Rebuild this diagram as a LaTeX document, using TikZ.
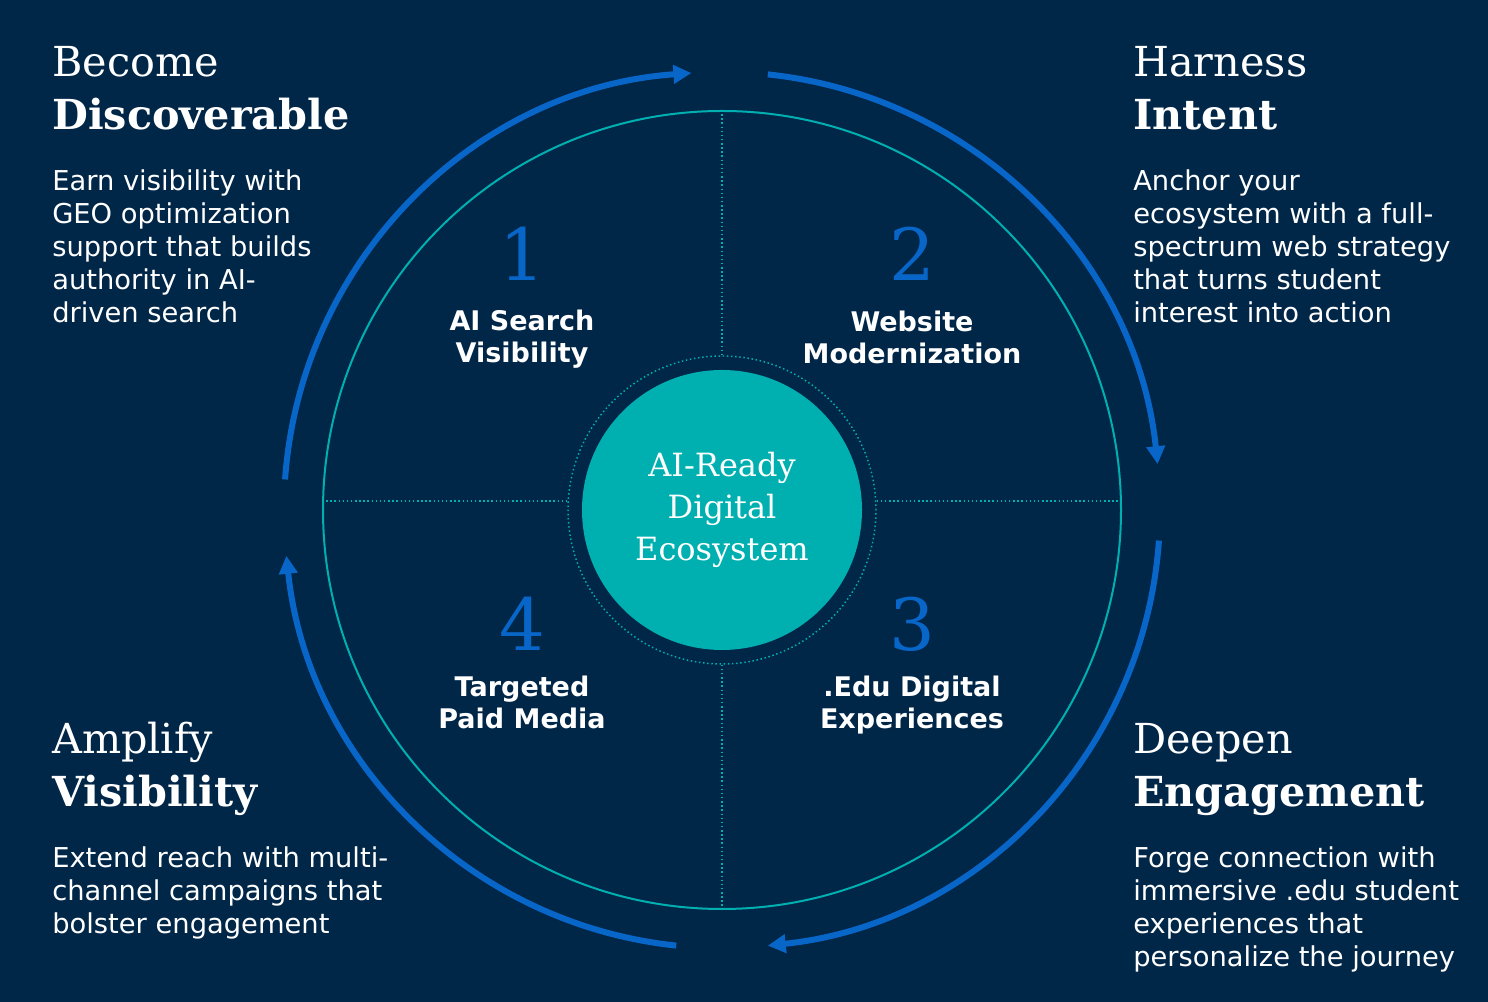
\documentclass[tikz,border=0pt]{standalone}
\usepackage{fontspec}
\setmainfont{DejaVu Sans}
\newfontfamily\slabfont{DejaVu Serif}
\usetikzlibrary{arrows.meta}

\definecolor{navy}{RGB}{0,38,72}
\definecolor{ringteal}{RGB}{0,176,176}
\definecolor{flowblue}{RGB}{8,102,200}

\tikzset{
  heading/.style={anchor=base west, inner sep=0, align=left, text=white,
    font=\slabfont\fontsize{31}{40}\selectfont},
  blurb/.style={anchor=base west, inner sep=0, align=left, text=white,
    font=\fontsize{20.5}{24.75}\selectfont},
  numeral/.style={anchor=base, inner sep=0, text=flowblue,
    font=\slabfont\fontsize{54}{60}\selectfont},
  quadlabel/.style={anchor=base, inner sep=0, align=center, text=white,
    font=\bfseries\fontsize{20.25}{24}\selectfont},
  flow/.style={flowblue, line width=4.5pt, -{Triangle[length=13.5pt,width=13.5pt]}},
  divider/.style={ringteal, line width=1.1pt, dotted}
}

\begin{document}
\begin{tikzpicture}[x=0.75pt,y=0.75pt]
        % Background
        \fill[navy] (0,0) rectangle (1488,1002);
        \useasboundingbox (0,0) rectangle (1488,1002);

        % Circles
        \coordinate (c) at (722,492);
        \node (outer) [circle, draw=ringteal, line width=1.5pt, minimum size=598.5pt] at (c) {};
        \node (ring) [circle, draw=ringteal, dotted, line width=1.1pt, minimum size=231pt] at (c) {};
        \node (hub) [circle, fill=ringteal, minimum size=210pt, align=center, text=white,
          font=\slabfont\fontsize{24}{31.5}\selectfont] at (c) {AI-Ready\\Digital\\Ecosystem};

        % Dividers
        \draw[divider] (outer.north) -- (ring.north);
        \draw[divider] (ring.south) -- (outer.south);
        \draw[divider] ([yshift=6.75pt]outer.west) -- ([yshift=6.75pt]ring.west);
        \draw[divider] ([yshift=6.75pt]ring.east) -- ([yshift=6.75pt]outer.east);

        % Cycle arrows
        \draw[flow] (c) ++(176:438) arc[start angle=176, end angle=94, radius=438];
        \draw[flow] (c) ++(84:438) arc[start angle=84, end angle=6, radius=438];
        \draw[flow] (c) ++(-4:438) arc[start angle=-4, end angle=-84, radius=438];
        \draw[flow] (c) ++(-96:438) arc[start angle=-96, end angle=-174, radius=438];

        % Quadrants
        \node (n1) [numeral] at (522,721) {1};
        \node (n2) [numeral] at (912,721) {2};
        \node (n3) [numeral] at (912,351) {3};
        \node (n4) [numeral] at (522,351) {4};
        \node (q1) [quadlabel] at (522,639) {AI Search\\Visibility};
        \node (q2) [quadlabel] at (912,638) {Website\\Modernization};
        \node (q3) [quadlabel] at (912,273) {.Edu Digital\\Experiences};
        \node (q4) [quadlabel] at (522,273) {Targeted\\Paid Media};

        % Corner texts
        \node (h1) [heading] at (52,872) {Become\\\textbf{Discoverable}};
        \node (b1) [blurb] at (52,679) {Earn visibility with\\GEO optimization\\support that builds\\authority in AI-\\driven search};
        \node (h2) [heading] at (1133,872) {Harness\\\textbf{Intent}};
        \node (b2) [blurb] at (1133,679) {Anchor your\\ecosystem with a full-\\spectrum web strategy\\that turns student\\interest into action};
        \node (h4) [heading] at (52,195) {Amplify\\\textbf{Visibility}};
        \node (b4) [blurb] at (52,68) {Extend reach with multi-\\channel campaigns that\\bolster engagement};
        \node (h3) [heading] at (1133,195) {Deepen\\\textbf{Engagement}};
        \node (b3) [blurb] at (1133,35) {Forge connection with\\immersive .edu student\\experiences that\\personalize the journey};
    
    \end{tikzpicture}
\end{document}
